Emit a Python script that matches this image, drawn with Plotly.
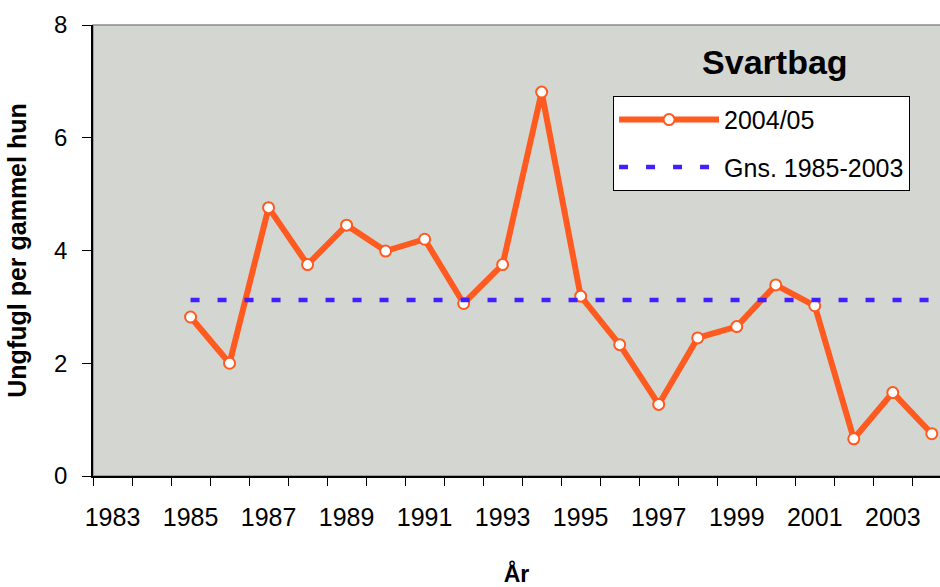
import plotly.graph_objects as go

years = list(range(1985, 2005))
young_per_hen = [2.82, 2.00, 4.76, 3.75, 4.45, 3.99, 4.20, 3.06, 3.75, 6.81,
                 3.19, 2.33, 1.27, 2.45, 2.65, 3.39, 3.02, 0.66, 1.48, 0.75]
mean_1985_2003 = [3.12] * len(years)

tick_years = list(range(1983, 2004, 2))
tick_labels = [str(y) for y in tick_years]

font = "Liberation Sans, Arial, sans-serif"
orange = "#FF5A1F"
blue = "#4020FF"

fig = go.Figure()

fig.add_trace(go.Scatter(
    x=years, y=young_per_hen, name="2004/05", mode="lines+markers",
    legendgroup="a",
    line=dict(color=orange, width=6),
    marker=dict(symbol="circle", size=11, color="white",
                line=dict(color=orange, width=2)),
))
fig.add_trace(go.Scatter(
    x=years, y=mean_1985_2003, name="Gns. 1985-2003", mode="lines",
    legendgroup="b",
    line=dict(color=blue, width=4.5, dash="9px,18px"),
))

fig.update_xaxes(
    range=[1982.5, 2004.21], autorange=False,
    tickmode="array", tickvals=tick_years, ticktext=tick_labels,
    ticks="", showgrid=False, zeroline=False,
    showline=True, linecolor="black", linewidth=1.5,
    tickfont=dict(family=font, size=25, color="black"),
    ticklabelstandoff=18,
    minor=dict(tick0=1982.5, dtick=1, ticks="outside", ticklen=8,
               tickcolor="black", tickwidth=1, showgrid=False),
    title=dict(text="<b>År</b>", font=dict(family=font, size=23, color="black"),
               standoff=36),
)
fig.update_yaxes(
    range=[0, 8], autorange=False, dtick=2,
    ticks="outside", ticklen=9, tickcolor="black", tickwidth=1,
    showgrid=False, zeroline=False,
    showline=True, linecolor="black", linewidth=1.5,
    tickfont=dict(family=font, size=24, color="black"),
    ticklabelstandoff=10,
    title=dict(text="<b>Ungfugl per gammel hun</b>",
               font=dict(family=font, size=25, color="black"), standoff=20),
)

fig.add_shape(type="rect", xref="paper", yref="paper",
              x0=0, y0=0, x1=1.01, y1=1,
              line=dict(color="#8A8A8A", width=1.5), layer="below")

fig.update_layout(
    width=940, height=587,
    margin=dict(l=93, r=0, t=25, b=111),
    paper_bgcolor="white", plot_bgcolor="#D4D6D2",
    font=dict(family=font, color="black"),
    title=dict(text="<b>Svartbag</b>", font=dict(family=font, size=34, color="black"),
               xref="paper", x=0.805, xanchor="center",
               yref="container", y=0.894, yanchor="middle"),
    showlegend=True,
    legend=dict(x=0.614, y=0.843, xanchor="left", yanchor="top",
                bgcolor="white", bordercolor="black", borderwidth=1,
                font=dict(family=font, size=25, color="black"),
                itemwidth=100, tracegroupgap=12),
)

fig.write_html("out.html", config={"displayModeBar": False},
               post_script="document.body.style.margin='0';")
